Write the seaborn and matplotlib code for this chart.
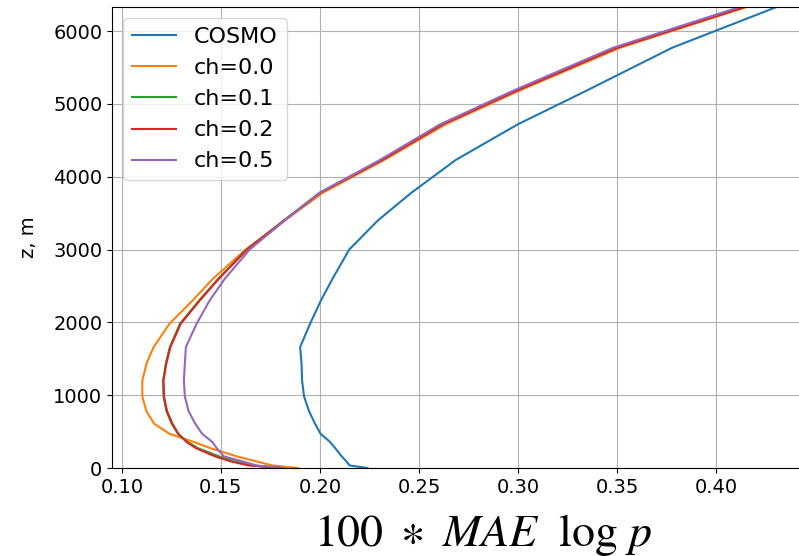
import matplotlib
matplotlib.use("Agg")
import matplotlib.pyplot as plt
import seaborn as sns
import pandas as pd
import numpy as np

z = [0, 35, 90, 160, 270, 360, 470, 610, 780, 980, 1200, 1440, 1660, 1980,
     2300, 2600, 3000, 3400, 3780, 4230, 4720, 5180, 5770, 6330]

cosmo = [0.224, 0.215, 0.2134, 0.211, 0.2078, 0.205, 0.2003, 0.1975, 0.1945, 0.192,
         0.191, 0.1907, 0.190, 0.195, 0.2005, 0.2064, 0.2148, 0.2293, 0.2462, 0.2686,
         0.3000, 0.3345, 0.3778, 0.4306]
ch00 = [0.189, 0.176, 0.168, 0.158, 0.145, 0.136, 0.124, 0.1162, 0.1124, 0.1103,
        0.1103, 0.1125, 0.116, 0.124, 0.1357, 0.146, 0.1625, 0.1823, 0.2015, 0.2325,
        0.2635, 0.3005, 0.3515, 0.4155]
ch01 = [0.182, 0.166, 0.157, 0.149, 0.1386, 0.133, 0.1283, 0.1251, 0.1225, 0.121,
        0.1208, 0.1222, 0.1242, 0.1293, 0.139, 0.1487, 0.163, 0.1818, 0.2, 0.2312,
        0.2618, 0.2985, 0.3495, 0.4135]
ch02 = [0.179, 0.164, 0.155, 0.147, 0.1375, 0.1325, 0.1285, 0.1255, 0.1228, 0.1213,
        0.121, 0.1225, 0.1245, 0.1297, 0.1393, 0.149, 0.1632, 0.182, 0.2002, 0.2315,
        0.2622, 0.2993, 0.3502, 0.4146]
ch05 = [0.181, 0.168, 0.161, 0.1515, 0.148, 0.1455, 0.1405, 0.137, 0.1337, 0.1318,
        0.1313, 0.1318, 0.1323, 0.1377, 0.1443, 0.152, 0.1645, 0.1823, 0.1998, 0.2303,
        0.2608, 0.2975, 0.348, 0.412]

labels = ["COSMO", "ch=0.0", "ch=0.1", "ch=0.2", "ch=0.5"]
series = [cosmo, ch00, ch01, ch02, ch05]
xticks = [0.10, 0.15, 0.20, 0.25, 0.30, 0.35, 0.40]
yticks = [0, 1000, 2000, 3000, 4000, 5000, 6000]

frames = []
for lab, vals in zip(labels, series):
    frames.append(pd.DataFrame({"mae": vals, "z": z, "run": lab}))
df = pd.concat(frames, ignore_index=True)

plt.rcParams["mathtext.fontset"] = "stix"

fig = plt.figure(figsize=(7.99, 5.56), dpi=100)
ax = fig.add_axes([112 / 799, 88 / 556, 742 / 799, 461 / 556])

palette = dict(zip(labels, sns.color_palette("tab10", 5)))
sns.lineplot(data=df, x="mae", y="z", hue="run", palette=palette, orient="y",
             sort=False, estimator=None, linewidth=1.5, ax=ax)

ax.set_xlim(0.095, 0.10 + (854 - 122) / 1980)
ax.set_ylim(0, 6330)
ax.set_xticks(xticks)
ax.set_yticks(yticks)
ax.grid(True, color="#b0b0b0", linewidth=0.8)
ax.tick_params(labelsize=14)
ax.set_xlabel(r"$100\ \ast\ MAE\ \ \log\, p$", fontsize=33, labelpad=11)
ax.set_ylabel("z, m", fontsize=14, labelpad=11)

handles, labs = ax.get_legend_handles_labels()
ax.legend(handles, labs, loc="upper left", fontsize=16, title=None)

fig.savefig("out.png", dpi=100)
